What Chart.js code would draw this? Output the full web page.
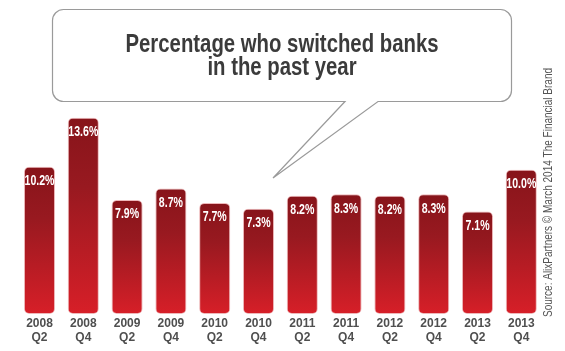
<!DOCTYPE html>
<html>
<head>
<meta charset="utf-8">
<script src="https://cdn.jsdelivr.net/npm/chart.js"></script>
<style>
  html, body { margin: 0; padding: 0; background: #fff; }
  #wrap { position: relative; width: 565px; height: 351px; }
</style>
</head>
<body>
<div id="wrap"><canvas id="chart"></canvas></div>
<script>
// chart data
const periods = [
    ["2008", "Q2"], ["2008", "Q4"], ["2009", "Q2"], ["2009", "Q4"],
    ["2010", "Q2"], ["2010", "Q4"], ["2011", "Q2"], ["2011", "Q4"],
    ["2012", "Q2"], ["2012", "Q4"], ["2013", "Q2"], ["2013", "Q4"]
];
const switchedPct = [10.2, 13.6, 7.9, 8.7, 7.7, 7.3, 8.2, 8.3, 8.2, 8.3, 7.1, 10.0];
const titleLines = ["Percentage who switched banks", "in the past year"];
const sourceNote = "Source: AlixPartners \u00A9 March 2014 The Financial Brand";

const NARROW_FONT = "'Liberation Sans Narrow', 'Liberation Sans', Arial, sans-serif";

// there's no condensed face installed, so squeeze text horizontally
function narrowText(ctx, text, x, y, sx) {
    ctx.save();
    ctx.translate(x, y);
    ctx.scale(sx, 1);
    ctx.fillText(text, 0, 0);
    ctx.restore();
}

// per-bar vertical gradient: dark red at the top, bright red at the bottom
function barGradient(context) {
    const chart = context.chart;
    const yScale = chart.scales.y;
    if (!yScale || !chart.chartArea) return "#b01b22";
    const top = yScale.getPixelForValue(context.raw);
    const bottom = yScale.getPixelForValue(0);
    const g = chart.ctx.createLinearGradient(0, top, 0, bottom);
    g.addColorStop(0, "#87141a");
    g.addColorStop(0.35, "#981920");
    g.addColorStop(1, "#d71f28");
    return g;
}

// speech bubble, title and vertical source note
const decorPlugin = {
    id: "decor",
    beforeDraw(chart) {
        const ctx = chart.ctx;
        ctx.save();
        const l = 52.5, t = 9.5, r = 511.5, b = 101.5, rad = 11;
        ctx.beginPath();
        ctx.moveTo(l + rad, t);
        ctx.lineTo(r - rad, t);
        ctx.arcTo(r, t, r, t + rad, rad);
        ctx.lineTo(r, b - rad);
        ctx.arcTo(r, b, r - rad, b, rad);
        ctx.lineTo(378, b);
        ctx.lineTo(273, 178);
        ctx.lineTo(345, b);
        ctx.lineTo(l + rad, b);
        ctx.arcTo(l, b, l, b - rad, rad);
        ctx.lineTo(l, t + rad);
        ctx.arcTo(l, t, l + rad, t, rad);
        ctx.closePath();
        ctx.fillStyle = "#ffffff";
        ctx.fill();
        ctx.strokeStyle = "#9a9a9a";
        ctx.lineWidth = 1.2;
        ctx.stroke();

        ctx.fillStyle = "#3b3b3b";
        ctx.font = "bold 25px " + NARROW_FONT;
        ctx.textAlign = "center";
        ctx.textBaseline = "alphabetic";
        const tsx = 313 / ctx.measureText(titleLines[0]).width;
        narrowText(ctx, titleLines[0], 282, 52, tsx);
        narrowText(ctx, titleLines[1], 282, 75, tsx);

        ctx.translate(549, 192.5);
        ctx.rotate(-Math.PI / 2);
        ctx.fillStyle = "#555555";
        ctx.font = "12px " + NARROW_FONT;
        ctx.textBaseline = "middle";
        const ssx = 249 / ctx.measureText(sourceNote).width;
        narrowText(ctx, sourceNote, 0, 0, ssx);
        ctx.restore();
    },
    afterDatasetsDraw(chart) {
        const ctx = chart.ctx;
        const meta = chart.getDatasetMeta(0);
        ctx.save();
        ctx.fillStyle = "#ffffff";
        ctx.font = "bold 14px " + NARROW_FONT;
        ctx.textAlign = "center";
        ctx.textBaseline = "middle";
        const lsx = 30 / ctx.measureText("10.2%").width;
        meta.data.forEach((bar, i) => {
            narrowText(ctx, switchedPct[i].toFixed(1) + "%", bar.x, bar.y + 14.5, lsx);
        });
        ctx.restore();
    }
};

new Chart(document.getElementById("chart"), {
    type: "bar",
    data: {
        labels: periods,
        datasets: [{
            data: switchedPct,
            backgroundColor: barGradient,
            borderColor: "rgba(236, 176, 178, 0.9)",
            borderWidth: 1,
            borderRadius: 5,
            borderSkipped: false,
            categoryPercentage: 1,
            barPercentage: 0.71
        }]
    },
    options: {
        responsive: true,
        maintainAspectRatio: false,
        animation: false,
        layout: {
            padding: { top: 112, left: 17.6, right: 21.8, bottom: 0 }
        },
        plugins: {
            legend: { display: false },
            tooltip: { enabled: false }
        },
        scales: {
            y: {
                display: false,
                min: 0,
                max: 14
            },
            x: {
                grid: { display: false, drawTicks: false },
                border: { display: false },
                ticks: {
                    color: "#4f4f4f",
                    padding: 3,
                    font: { family: "'Liberation Sans', Arial, sans-serif", size: 12, weight: "bold", lineHeight: 1.15 },
                    maxRotation: 0,
                    autoSkip: false
                },
                afterFit(scale) { scale.height = 37; }
            }
        }
    },
    plugins: [decorPlugin]
});
</script>
</body>
</html>
